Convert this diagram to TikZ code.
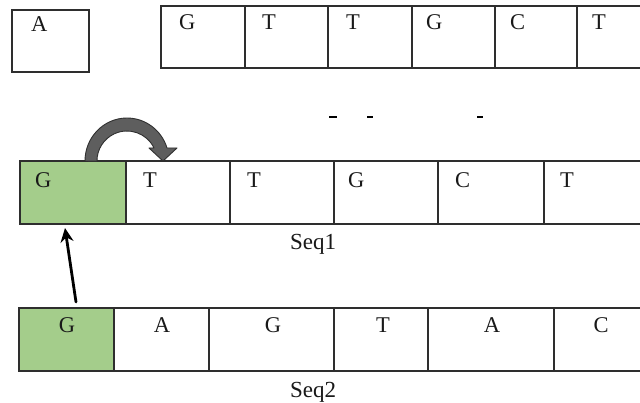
\documentclass[tikz,border=0pt]{standalone}
\usepackage{fontspec}
\setmainfont{Liberation Serif}
\usetikzlibrary{arrows.meta}
\definecolor{linec}{HTML}{2E2E2E}
\definecolor{cellgreen}{HTML}{A4CD8B}
\definecolor{arrfill}{HTML}{5E5E5E}
\definecolor{arrdraw}{HTML}{303030}
\begin{document}
\begin{tikzpicture}[x=1pt,y=-1pt,
  cell/.style={draw=linec, line width=1.3pt, inner sep=0pt, outer sep=0pt, anchor=north west},
  let/.style={inner sep=0pt, outer sep=0pt, font=\fontsize{22.5}{26}\selectfont, text=black!90},
  lab/.style={inner sep=0pt, outer sep=0pt, font=\fontsize{23}{27}\selectfont, text=black!90, anchor=base}]
\useasboundingbox (0,0) rectangle (640,403);
\fill[white] (0,0) rectangle (640,403);

% single box A
\node[cell, minimum width=77pt, minimum height=62pt] (a0) at (12,10) {};
\node[let, anchor=base west] (la) at (31,32) {A};

% top row
\foreach \i/\xa/\xb/\ch/\lx in {0/161/245/G/179, 1/245/328/T/262, 2/328/412/T/346, 3/412/495/G/426, 4/495/577/C/510, 5/577/660/T/592}{
  \pgfmathsetmacro{\w}{\xb-\xa}
  \node[cell, minimum width=\w pt, minimum height=62pt] (t\i) at (\xa,6) {};
  \node[let, anchor=base west] (tl\i) at (\lx,30) {\ch};
}

% Seq1 row
\foreach \i/\xa/\xb/\ch/\lx in {0/20/126/G/35, 1/126/230/T/143, 2/230/334/T/247, 3/334/438/G/348, 4/438/544/C/455, 5/544/660/T/560}{
  \pgfmathsetmacro{\w}{\xb-\xa}
  \node[cell, minimum width=\w pt, minimum height=63pt] (s\i) at (\xa,161) {};
  \node[let, anchor=base west] (sl\i) at (\lx,188) {\ch};
}
\fill[cellgreen] ([xshift=0.65pt,yshift=-0.65pt]s0.north west) rectangle ([xshift=-0.65pt,yshift=0.65pt]s0.south east);
\node[let, anchor=base west] at (35,188) {G};
\node[lab] (seq1) at (313,250) {Seq1};

% Seq2 row
\foreach \i/\xa/\xb/\ch/\lx in {0/19/114/G/67, 1/114/209/A/162, 2/209/334/G/273, 3/334/428/T/383, 4/428/554/A/492, 5/554/660/C/601}{
  \pgfmathsetmacro{\w}{\xb-\xa}
  \node[cell, minimum width=\w pt, minimum height=63pt] (q\i) at (\xa,308) {};
  \node[let, anchor=base] (ql\i) at (\lx,333) {\ch};
}
\fill[cellgreen] ([xshift=0.65pt,yshift=-0.65pt]q0.north west) rectangle ([xshift=-0.65pt,yshift=0.65pt]q0.south east);
\node[let, anchor=base] at (67,333) {G};
\node[lab] (seq2) at (313,397) {Seq2};

% straight arrow from Seq2 G to Seq1 G
\draw[line width=2.8pt, line cap=round, -{Stealth[length=14pt,width=13pt]}]
  ([xshift=9.5pt,yshift=6pt]q0.north) -- ([xshift=-8pt,yshift=-4pt]s0.south);

% curved block arrow over Seq1
\filldraw[fill=arrfill, draw=arrdraw, line width=0.9pt, line join=round]
  (85,161) arc[start angle=180, end angle=342.4, x radius=42, y radius=43]
  -- (177,148) -- (163,161) -- (149,148)
  -- (154,148) arc[start angle=334.3, end angle=180, x radius=30, y radius=30]
  -- cycle;

% small fragment marks
\draw[line width=2.2pt] (329,117) -- (337,117);
\draw[line width=2.2pt] (367,117) -- (373,117);
\draw[line width=2.2pt] (477,117) -- (483,117);
\end{tikzpicture}
\end{document}
